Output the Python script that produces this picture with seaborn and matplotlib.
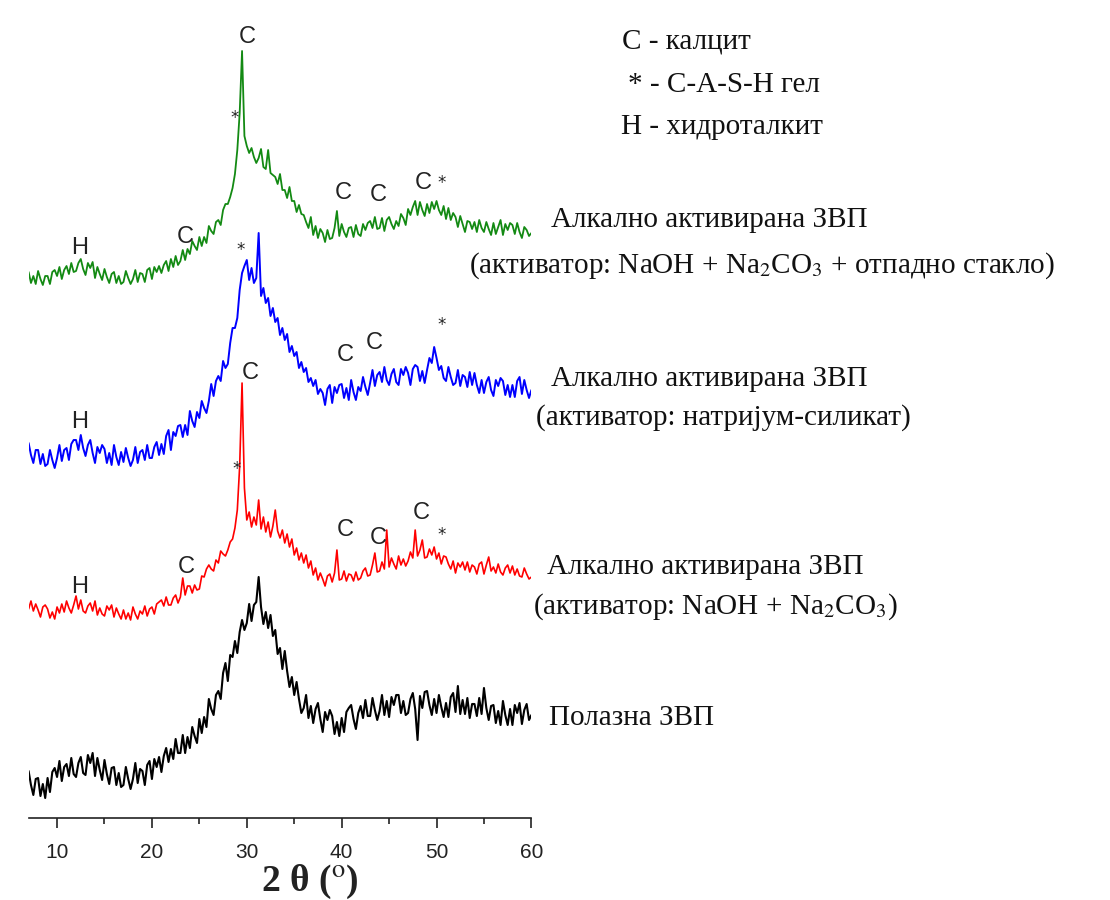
import numpy as np
import pandas as pd
import matplotlib
matplotlib.use("Agg")
import matplotlib.pyplot as plt
import seaborn as sns

# ---------------- data (intensity, arbitrary units, curves already stacked) ----------------
two_theta_start, two_theta_end, n_points = 7.0, 60.0, 213

green_waste_glass = [
    546, 535, 542, 534,  547, 539, 533, 542,  542, 534, 546, 548,  542, 551, 539, 548,
    552, 544, 555, 546,  547, 555, 559, 549,  543, 555, 550, 556,  540, 551, 544, 538,
    549, 541, 535, 544,  546, 535, 542, 534,  536, 547, 540, 534,  539, 548, 536, 545,
    544, 536, 548, 550,  539, 551, 546, 552,  545, 553, 557, 547,  559, 551, 562, 553,
    557, 568, 558, 569,  564, 577, 572, 568,  581, 572, 581, 575,  592, 587, 584, 596,
    598, 593, 608, 614,  614, 621, 630, 644,  668, 705, 767, 682,  672, 665, 670, 661,
    655, 660, 669, 651,  649, 668, 645, 643,  641, 634, 644, 628,  628, 620, 631, 617,
    617, 606, 613, 604,  603, 596, 590, 601,  583, 592, 580, 589,  585, 576, 588, 579,
    580, 590, 607, 582,  594, 586, 581, 590,  591, 581, 593, 584,  582, 594, 588, 595,
    597, 590, 601, 589,  590, 600, 587, 598,  601, 594, 589, 597,  592, 604, 600, 593,
    609, 603, 611, 617,  603, 616, 608, 602,  614, 605, 616, 609,  617, 608, 603, 612,
    599, 610, 598, 605,  601, 591, 602, 594,  586, 597, 596, 589,  596, 586, 598, 590,
    586, 596, 589, 583,  595, 584, 591, 598,  583, 594, 588, 595,  593, 584, 595, 586,
    580, 591, 588, 582,  585,
]

blue_silicate = [
    375, 363, 355, 368,  368, 354, 364, 352,  354, 368, 358, 350,  360, 373, 357, 368,
    370, 358, 374, 378,  378, 368, 383, 370,  362, 373, 378, 365,  355, 371, 365, 373,
    369, 355, 365, 353,  373, 361, 353, 366,  356, 370, 360, 352,  358, 371, 355, 366,
    368, 358, 373, 360,  360, 371, 376, 363,  374, 364, 382, 388,  368, 386, 382, 392,
    393, 381, 393, 383,  407, 397, 391, 406,  400, 417, 410, 405,  417, 434, 422, 437,
    442, 437, 457, 450,  454, 475, 490, 490,  500, 528, 545, 552,  558, 538, 550, 535,
    540, 585, 522, 530,  515, 520, 502, 510,  496, 500, 483, 490,  478, 484, 466, 472,
    462, 466, 450, 456,  446, 450, 436, 440,  432, 438, 424, 429,  425, 413, 429, 433,
    415, 431, 425, 433,  434, 420, 430, 418,  438, 426, 418, 431,  427, 441, 431, 423,
    435, 448, 432, 443,  446, 436, 451, 438,  433, 444, 449, 436,  433, 449, 443, 451,
    445, 433, 449, 453,  451, 437, 447, 435,  448, 460, 455, 471,  460, 448, 452, 440,
    437, 451, 441, 433,  435, 448, 432, 443,  441, 431, 446, 433,  445, 433, 425, 438,
    425, 436, 441, 428,  422, 438, 432, 440,  437, 423, 433, 421,  433, 421, 437, 441,
    424, 438, 428, 420,  428,
]

red_naoh_na2co3 = [
    209, 217, 207, 214,  208, 201, 211, 213,  209, 200, 206, 199,  211, 205, 214, 206,
    217, 210, 205, 213,  222, 209, 218, 207,  205, 212, 215, 207,  217, 203, 210, 204,
    202, 212, 208, 213,  201, 210, 204, 199,  208, 199, 205, 198,  211, 204, 199, 207,
    204, 212, 202, 209,  211, 204, 214, 216,  218, 212, 221, 213,  213, 220, 223, 215,
    221, 240, 223, 232,  232, 225, 233, 228,  229, 242, 241, 249,  253, 249, 247, 258,
    255, 267, 264, 262,  268, 276, 279, 290,  308, 352, 435, 330,  298, 306, 291, 301,
    293, 318, 289, 301,  286, 296, 281, 292,  308, 287, 280, 288,  275, 284, 271, 279,
    263, 270, 258, 265,  255, 263, 250, 257,  243, 250, 238, 245,  239, 232, 242, 244,
    236, 245, 268, 238,  239, 247, 237, 244,  243, 237, 246, 238,  240, 247, 250, 242,
    243, 253, 265, 246,  247, 256, 249, 288,  251, 260, 254, 249,  262, 253, 259, 252,
    257, 266, 260, 288,  262, 268, 278, 260,  261, 269, 263, 271,  259, 265, 254, 262,
    261, 254, 249, 257,  245, 255, 251, 256,  248, 256, 246, 253,  251, 244, 254, 256,
    244, 253, 261, 247,  251, 245, 254, 246,  243, 250, 253, 245,  252, 243, 249, 242,
    241, 250, 244, 239,  241,
]

black_raw = [
    47, 33, 23, 39,  40, 22, 34, 20,  40, 26, 46, 50,  41, 57, 37, 51,
    54, 42, 60, 44,  41, 55, 61, 45,  43, 63, 55, 65,  42, 60, 48, 38,
    58, 44, 34, 50,  51, 33, 45, 31,  33, 51, 39, 29,  39, 55, 35, 49,
    47, 33, 53, 57,  39, 59, 51, 61,  46, 62, 70, 56,  69, 59, 79, 65,
    65, 83, 65, 81,  70, 91, 82, 75,  99, 85, 101, 91,  119, 109, 103, 123,
    127, 119, 145, 155,  137, 163, 161, 177,  165, 186, 198, 188,  195, 214, 197, 213,
    216, 241, 211, 194,  206, 190, 203, 182,  188, 164, 170, 149,  167, 147, 131, 141,
    123, 136, 119, 105,  110, 123, 100, 112,  95, 109, 115, 99,  86, 106, 98, 108,
    102, 84, 96, 82,  100, 86, 106, 110,  113, 99, 89, 105,  112, 100, 118, 102,
    102, 120, 108, 98,  107, 123, 103, 117,  101, 121, 113, 123,  123, 105, 117, 103,
    105, 119, 125, 109,  78, 122, 110, 126,  127, 113, 103, 119,  105, 123, 111, 101,
    115, 101, 121, 125,  106, 132, 104, 118,  104, 120, 100, 114,  114, 102, 120, 104,
    130, 110, 98, 112,  113, 95, 107, 93,  117, 103, 93, 109,  93, 113, 105, 115,
    94, 108, 114, 98,  103,
]

series_names = ["Алкално активирана ЗВП (NaOH + Na2CO3 + отпадно стакло)",
                "Алкално активирана ЗВП (натријум-силикат)",
                "Алкално активирана ЗВП (NaOH + Na2CO3)",
                "Полазна ЗВП"]
series_values = [green_waste_glass, blue_silicate, red_naoh_na2co3, black_raw]
series_colors = ["#138a13", "#0000ff", "#ff0000", "#000000"]
series_lw = [1.3, 1.4, 1.2, 1.5]

# peak markers: (2θ, intensity, label)
peak_x = [30.0, 28.68, 12.42, 23.49, 40.14, 43.9, 48.58, 50.58,
          12.42, 29.39, 40.35, 43.41, 50.58,
          12.42, 23.59, 28.97, 30.34, 40.35, 43.9, 48.37, 50.58]
peak_y = [781, 700, 570, 581, 625, 623, 635, 635,
          396, 568, 463, 475, 493,
          231, 251, 349, 445, 288, 280, 305, 283]
peak_lbl = ["C", "*", "H", "C", "C", "C", "C", "*",
            "H", "*", "C", "C", "*",
            "H", "C", "*", "C", "C", "C", "C", "*"]

x_ticks_major = [10, 20, 30, 40, 50, 60]
x_ticks_minor = [15, 25, 35, 45, 55]

# ---------------- figure ----------------
sns.set_style("white")
plt.rcParams["font.family"] = ["Liberation Serif", "DejaVu Serif"]
plt.rcParams["mathtext.fontset"] = "stix"

W, H = 1110, 900
fig = plt.figure(figsize=(W / 100, H / 100), dpi=100)
ax_left, ax_right, ax_bottom_px = 28.6, 531.4, 818.0
ax = fig.add_axes([ax_left / W, 1 - ax_bottom_px / H, (ax_right - ax_left) / W, ax_bottom_px / H])

two_theta = np.linspace(two_theta_start, two_theta_end, n_points)
frames = []
for name, vals in zip(series_names, series_values):
    frames.append(pd.DataFrame({"2theta": two_theta, "I": vals, "sample": name}))
df = pd.concat(frames, ignore_index=True)

for name, col, lw in zip(series_names, series_colors, series_lw):
    sns.lineplot(data=df[df["sample"] == name], x="2theta", y="I", color=col,
                 linewidth=lw, estimator=None, sort=False, ax=ax, legend=False)

ax.set_xlim(two_theta_start, two_theta_end)
ax.set_ylim(0, ax_bottom_px)
ax.set_xticks(x_ticks_major)
ax.set_xticks(x_ticks_minor, minor=True)
ax.set_yticks([])
for s in ["left", "top", "right"]:
    ax.spines[s].set_visible(False)
ax.spines["bottom"].set_color("#222222")
ax.spines["bottom"].set_linewidth(1.2)
ax.tick_params(axis="x", which="major", direction="out", length=7, width=1.2,
               color="#222222", labelsize=15, pad=11, bottom=True)
ax.tick_params(axis="x", which="minor", direction="out", length=4, width=1.2,
               color="#222222", bottom=True)
for t in ax.get_xticklabels():
    t.set_fontfamily(["Liberation Sans", "DejaVu Sans"])
    t.set_color("#222222")
ax.set_xlabel("")
ax.set_ylabel("")
ax.patch.set_alpha(0)

for px_, py_, lb in zip(peak_x, peak_y, peak_lbl):
    if lb == "*":
        ax.text(px_, py_, lb, fontsize=12, ha="center", va="center",
                family=["DejaVu Sans"], color="#222222")
    else:
        ax.text(px_, py_, lb, fontsize=17, ha="center", va="center",
                family=["Liberation Sans", "DejaVu Sans"], color="#222222")

# axis label
fig.text(310 / W, 1 - 882 / H, r"2 θ ($^{\mathrm{o}}$)", ha="center", va="center",
         fontsize=27, fontweight="bold", color="#222222")

# legend of phases
fs = 21
fig.text(622 / W, 1 - 42 / H, "C - калцит", ha="left", va="center", fontsize=fs, color="#111111")
fig.text(628 / W, 1 - 85 / H, "* - C-A-S-H гел", ha="left", va="center", fontsize=fs, color="#111111")
fig.text(621 / W, 1 - 127 / H, "H - хидроталкит", ha="left", va="center", fontsize=fs, color="#111111")

# sample labels
fig.text(551 / W, 1 - 220 / H, "Алкално активирана ЗВП", ha="left", va="center", fontsize=fs, color="#111111")
fig.text(469 / W, 1 - 266 / H, r"(активатор: NaOH + Na$_2$CO$_3$ + отпадно стакло)", ha="left",
         va="center", fontsize=fs, color="#111111")
fig.text(551 / W, 1 - 379 / H, "Алкално активирана ЗВП", ha="left", va="center", fontsize=fs, color="#111111")
fig.text(536 / W, 1 - 418 / H, "(активатор: натријум-силикат)", ha="left", va="center", fontsize=fs, color="#111111")
fig.text(547 / W, 1 - 567 / H, "Алкално активирана ЗВП", ha="left", va="center", fontsize=fs, color="#111111")
fig.text(533 / W, 1 - 607 / H, r"(активатор: NaOH + Na$_2$CO$_3$)", ha="left", va="center", fontsize=fs, color="#111111")
fig.text(549 / W, 1 - 718 / H, "Полазна ЗВП", ha="left", va="center", fontsize=fs, color="#111111")

fig.savefig("out.png", dpi=100, facecolor="white")
